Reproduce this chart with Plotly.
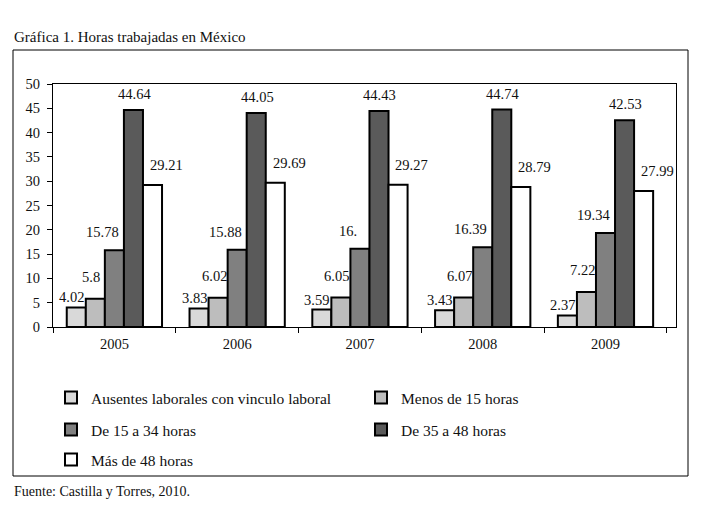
import plotly.graph_objects as go

# ---------------- data ----------------
years = ["2005", "2006", "2007", "2008", "2009"]
series_names = [
    "Ausentes laborales con vinculo laboral",
    "Menos de 15 horas",
    "De 15 a 34 horas",
    "De 35 a 48 horas",
    "Más de 48 horas",
]
ausentes = [4.02, 3.83, 3.59, 3.43, 2.37]
menos15 = [5.8, 6.02, 6.05, 6.07, 7.22]
de15a34 = [15.78, 15.88, 16.1, 16.39, 19.34]
de35a48 = [44.64, 44.05, 44.43, 44.74, 42.53]
mas48 = [29.21, 29.69, 29.27, 28.79, 27.99]
label_texts = [
    ["4.02", "3.83", "3.59", "3.43", "2.37"],
    ["5.8", "6.02", "6.05", "6.07", "7.22"],
    ["15.78", "15.88", "16.", "16.39", "19.34"],
    ["44.64", "44.05", "44.43", "44.74", "42.53"],
    ["29.21", "29.69", "29.27", "28.79", "27.99"],
]
y_ticks = list(range(0, 55, 5))
title_text = "Gráfica 1. Horas trabajadas en México"
source_text = "Fuente: Castilla y Torres, 2010."

values = [ausentes, menos15, de15a34, de35a48, mas48]

# ---------------- style ----------------
OFF = 8                       # page body margin of the browser
W, H = 703 - OFF, 510 - OFF
ML, MR, MT, MB = 53 - OFF, 27, 84 - OFF, 183
PW, PH = W - ML - MR, H - MT - MB
FONT = "Liberation Serif, Times New Roman, serif"
TXT = "#111111"
colors = ["#d9d9d9", "#bdbdbd", "#808080", "#5a5a5a", "#ffffff"]
label_dx = [-43, -23, -12, 20, 52]   # px offset of label from category centre
label_dy = [10, 22, 18, 16, 20]      # px offset of label above bar top


def px_x(px):
    """screen pixel -> paper x"""
    return (px - OFF - ML) / PW


def px_y(py):
    """screen pixel -> paper y"""
    return (H - MB - (py - OFF)) / PH


fig = go.Figure()
legend_keys = ["legend", "legend2", "legend3", "legend4", "legend5"]
for i, (name, vals) in enumerate(zip(series_names, values)):
    fig.add_trace(go.Bar(
        x=years, y=vals, name=name,
        marker=dict(color=colors[i], line=dict(color="black", width=2)),
        legend=legend_keys[i],
        hoverinfo="x+y+name",
    ))

annotations = []
for i, vals in enumerate(values):
    for j, v in enumerate(vals):
        annotations.append(dict(
            x=j, y=v, xref="x", yref="y", text=label_texts[i][j],
            showarrow=False, xshift=label_dx[i], yshift=label_dy[i],
            xanchor="center", yanchor="middle",
            font=dict(family=FONT, size=14.5, color=TXT),
        ))

annotations.append(dict(
    x=px_x(13), y=px_y(37), xref="paper", yref="paper", text=title_text,
    showarrow=False, xanchor="left", yanchor="middle", borderpad=0,
    font=dict(family=FONT, size=15, color=TXT),
))
annotations.append(dict(
    x=px_x(13), y=px_y(491), xref="paper", yref="paper", text=source_text,
    showarrow=False, xanchor="left", yanchor="middle", borderpad=0,
    font=dict(family=FONT, size=14, color=TXT),
))

shapes = [dict(
    type="rect", xref="paper", yref="paper",
    x0=px_x(13), x1=px_x(688), y0=px_y(476), y1=px_y(50),
    line=dict(color="black", width=1), fillcolor="rgba(0,0,0,0)", layer="below",
)]

legend_pos = [(51, 398), (361, 398), (51, 430), (361, 430), (51, 460)]
legend_layouts = {}
for key, (lx, ly) in zip(legend_keys, legend_pos):
    legend_layouts[key] = dict(
        x=px_x(lx), y=px_y(ly), xanchor="left", yanchor="middle",
        orientation="h", bgcolor="rgba(0,0,0,0)", borderwidth=0,
        font=dict(family=FONT, size=15.5, color=TXT),
    )

fig.update_layout(
    width=W, height=H,
    margin=dict(l=ML, r=MR, t=MT, b=MB, pad=0, autoexpand=False),
    paper_bgcolor="white", plot_bgcolor="white",
    barmode="group", bargap=0.224, bargroupgap=0,
    showlegend=True,
    font=dict(family=FONT, size=14, color=TXT),
    annotations=annotations,
    shapes=shapes,
    xaxis=dict(
        type="category", showline=True, linecolor="black", linewidth=1,
        mirror=True, ticks="outside", tickson="boundaries", ticklen=5,
        tickcolor="black", showgrid=False, ticklabelstandoff=4,
        automargin=False, tickangle=0,
        tickfont=dict(family=FONT, size=14.5, color=TXT),
    ),
    yaxis=dict(
        range=[0, 50], tickvals=y_ticks, showline=True, linecolor="black",
        linewidth=1, mirror=True, ticks="outside", ticklen=5, tickcolor="black",
        showgrid=False, zeroline=False, ticklabelstandoff=4, automargin=False,
        tickfont=dict(family=FONT, size=14.5, color=TXT),
    ),
    **legend_layouts,
)

fig.write_html("out.html")
